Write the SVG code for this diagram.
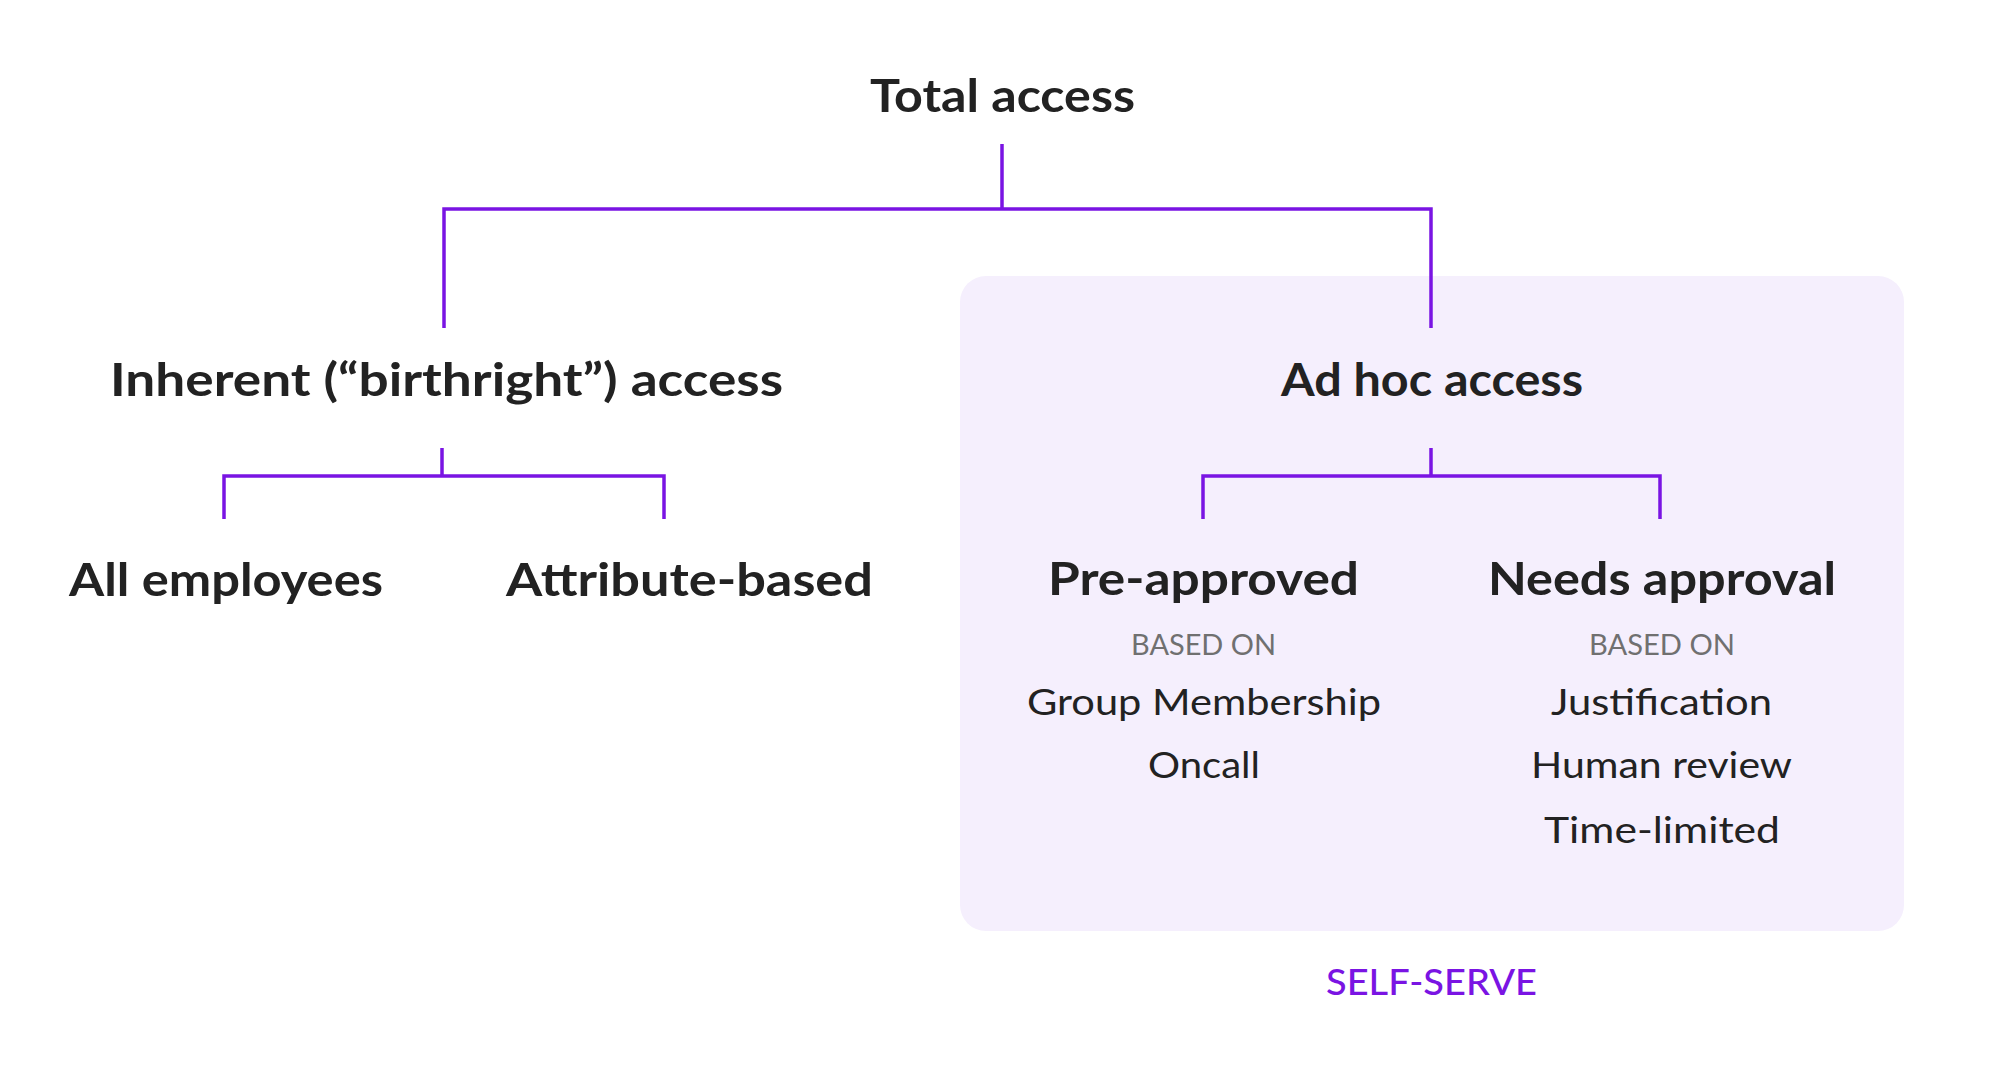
<svg xmlns="http://www.w3.org/2000/svg" width="2000" height="1076" viewBox="0 0 2000 1076">
<style>
.h{font-family:Lato,"Open Sans","Liberation Sans",sans-serif;font-weight:700;font-size:46px;fill:#222222}
.r{font-family:Lato,"Open Sans","Liberation Sans",sans-serif;font-weight:400;font-size:36px;fill:#222222}
.b{font-family:Lato,"Open Sans","Liberation Sans",sans-serif;font-weight:400;font-size:28px;fill:#707070}
.s{font-family:Lato,"Open Sans","Liberation Sans",sans-serif;font-weight:500;font-size:37px;fill:#7A14E3}
.c{fill:none;stroke:#7A14E3;stroke-width:3.5;stroke-linecap:butt;stroke-linejoin:miter}
</style>
<rect width="2000" height="1076" fill="#ffffff"/>
<g id="self-serve-box">
<rect x="960" y="276" width="944" height="655" rx="26" ry="26" fill="#F5EFFD"/>
<text class="s" x="1326" y="995" textLength="211" lengthAdjust="spacingAndGlyphs">SELF-SERVE</text>
</g>
<g id="connectors">
<path class="c" d="M1002 144 V209 M444 328 V209 H1431 V328"/>
<path class="c" d="M442 448 V476 M224 519 V476 H664 V519"/>
<path class="c" d="M1431 448 V476 M1203 519 V476 H1660 V519"/>
</g>
<g id="total-access"><text class="h" x="870" y="112" textLength="265" lengthAdjust="spacingAndGlyphs">Total access</text></g>
<g id="inherent-access"><text class="h" x="110" y="396" textLength="673" lengthAdjust="spacingAndGlyphs">Inherent (“birthright”) access</text></g>
<g id="ad-hoc-access"><text class="h" x="1281" y="396" textLength="302" lengthAdjust="spacingAndGlyphs">Ad hoc access</text></g>
<g id="all-employees"><text class="h" x="69" y="596" textLength="314" lengthAdjust="spacingAndGlyphs">All employees</text></g>
<g id="attribute-based"><text class="h" x="506" y="596" textLength="367" lengthAdjust="spacingAndGlyphs">Attribute-based</text></g>
<g id="pre-approved">
<text class="h" x="1048" y="595" textLength="311" lengthAdjust="spacingAndGlyphs">Pre-approved</text>
<text class="b" x="1131" y="655" textLength="145" lengthAdjust="spacingAndGlyphs">BASED ON</text>
<text class="r" x="1027" y="715" textLength="354" lengthAdjust="spacingAndGlyphs">Group Membership</text>
<text class="r" x="1148" y="778" textLength="112" lengthAdjust="spacingAndGlyphs">Oncall</text>
</g>
<g id="needs-approval">
<text class="h" x="1488" y="595" textLength="348" lengthAdjust="spacingAndGlyphs">Needs approval</text>
<text class="b" x="1589" y="655" textLength="146" lengthAdjust="spacingAndGlyphs">BASED ON</text>
<text class="r" x="1551" y="715" textLength="221" lengthAdjust="spacingAndGlyphs">Justification</text>
<text class="r" x="1531" y="778" textLength="261" lengthAdjust="spacingAndGlyphs">Human review</text>
<text class="r" x="1544" y="843" textLength="236" lengthAdjust="spacingAndGlyphs">Time-limited</text>
</g>
</svg>
